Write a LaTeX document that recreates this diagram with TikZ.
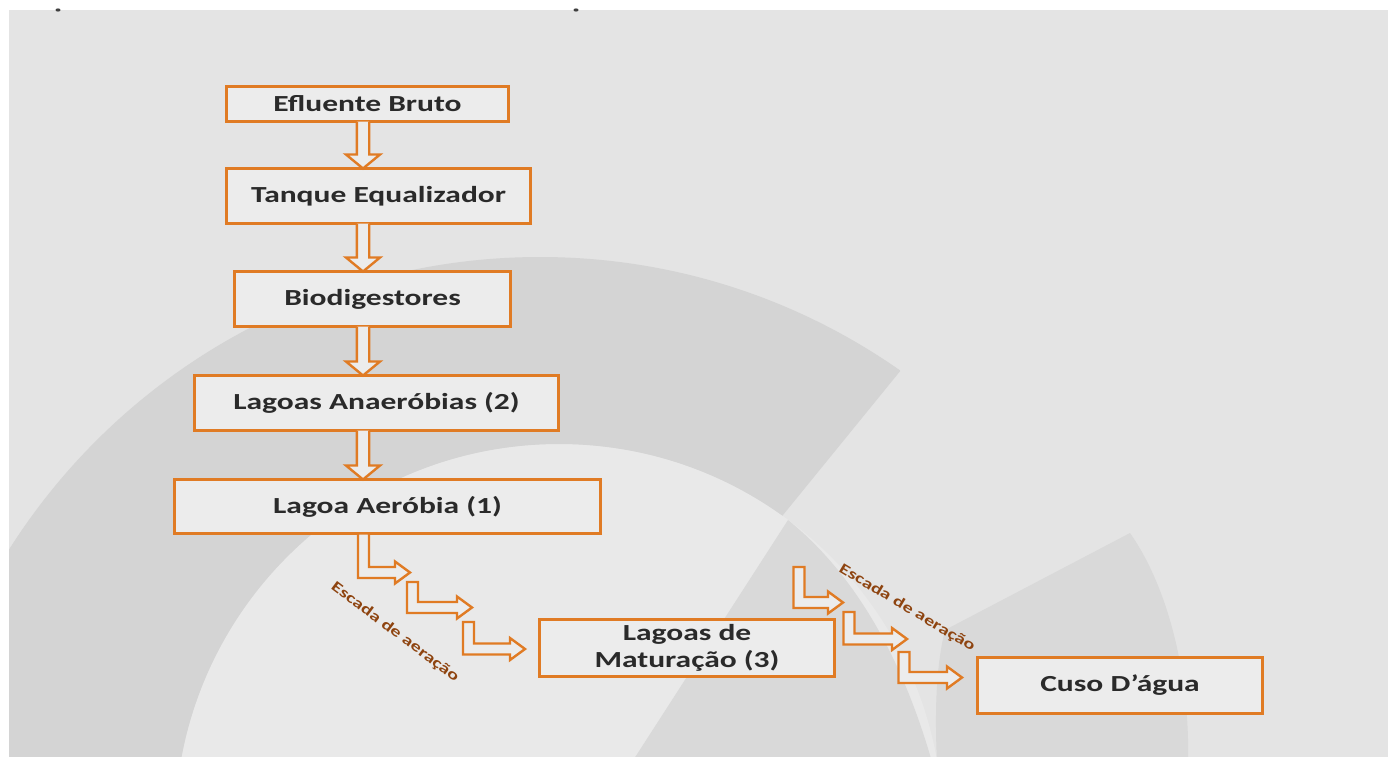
\documentclass[tikz,border=0pt]{standalone}
\usepackage{fontspec}
\newfontfamily\boxfont[FakeStretch=1.37]{Carlito}
\usetikzlibrary{calc}
\definecolor{bgc}{HTML}{E4E4E4}
\definecolor{bglight}{HTML}{E9E9E9}
\definecolor{banda}{HTML}{D4D4D4}
\definecolor{bandb}{HTML}{D9D9D9}
\definecolor{orng}{HTML}{E07B24}
\definecolor{boxfill}{HTML}{ECECEC}
\definecolor{lbl}{HTML}{8E4410}
\definecolor{txt}{HTML}{2A2A2A}
\newcommand\varrow[2]{\filldraw[blockarr] let \p1=(#1), \p2=(#2) in
  (\x1-6.2pt,\y1) -- (\x1-6.2pt,\y2+14pt) -- (\x1-17pt,\y2+14pt) -- (\x1,\y2)
  -- (\x1+17pt,\y2+14pt) -- (\x1+6.2pt,\y2+14pt) -- (\x1+6.2pt,\y1);}
\newcommand\larrow[2]{\filldraw[blockarr] let \p1=(#1), \p2=(#2) in
  (\x1-5.5pt,\y1) -- (\x1-5.5pt,\y2-5.5pt) -- (\x2-15pt,\y2-5.5pt) -- (\x2-15pt,\y2-11pt)
  -- (\x2,\y2) -- (\x2-15pt,\y2+11pt) -- (\x2-15pt,\y2+5.5pt) -- (\x1+5.5pt,\y2+5.5pt)
  -- (\x1+5.5pt,\y1) -- cycle;}
\begin{document}
\begin{tikzpicture}[x=1pt,y=-1pt,
  box/.style={draw=orng, line width=3pt, fill=boxfill, inner sep=0pt, outer sep=0pt,
    font=\boxfont\bfseries\fontsize{23}{27}\selectfont, text=txt, align=center},
  blockarr/.style={draw=orng, fill=boxfill, line width=2.4pt, line join=miter},
  lblstyle/.style={font=\boxfont\bfseries\fontsize{15}{16}\selectfont, text=lbl, inner sep=0pt}]
\useasboundingbox (0,0) rectangle (1388,756);
% background
\fill[white] (0,0) rectangle (1388,756);
\fill[bgc] (9,10) rectangle (1392,762);
\begin{scope}
  \clip (9,10) rectangle (1392,762);
  \fill[bglight] (559,828) circle (384);
  \begin{scope}
    \clip (0,10) -- (1194,10) -- (582,762) -- (0,762) -- cycle;
    \fill[banda, even odd rule] (540,885) circle (628) (559,828) circle (384);
  \end{scope}
  \fill[bandb] (788,520) -- (632,762) -- (932,762) .. controls (900,650) and (850,570) .. (788,520) -- cycle;
  \fill[bandb] (1130,533) -- (945,630) .. controls (935,670) and (935,720) .. (937,762)
     -- (1188,762) .. controls (1190,680) and (1170,590) .. (1130,533) -- cycle;
\end{scope}
\fill[black!75] (58,10) ellipse (2.5 and 1.6);
\fill[black!75] (576,10) ellipse (2.5 and 1.6);
% boxes
\node[box, minimum width=282pt, minimum height=35pt] (b1) at (367.5,104) {Efluente Bruto};
\node[box, minimum width=304pt, minimum height=55pt] (b2) at (378.5,196) {Tanque Equalizador};
\node[box, minimum width=276pt, minimum height=55pt] (b3) at (372.5,299) {Biodigestores};
\node[box, minimum width=364pt, minimum height=55pt] (b4) at (376.5,403) {Lagoas Anaeróbias (2)};
\node[box, minimum width=426pt, minimum height=54pt] (b5) at (387.5,506.5) {Lagoa Aeróbia (1)};
\node[box, minimum width=295pt, minimum height=57pt] (b6) at (687,648) {Lagoas de\\Maturação (3)};
\node[box, minimum width=285pt, minimum height=56pt] (b7) at (1120,685.5) {Cuso D’água};
% vertical connectors
\coordinate (ax) at (363,0);
\varrow{ax |- b1.south}{ax |- b2.north}
\varrow{ax |- b2.south}{ax |- b3.north}
\varrow{ax |- b3.south}{ax |- b4.north}
\varrow{ax |- b4.south}{ax |- b5.north}
% aeration stairs
\coordinate (s1) at (363.5,0);
\coordinate (t1) at (410,572.5);
\coordinate (s2) at (412.5,582);
\coordinate (t2) at (472,607.5);
\coordinate (s3) at (468.5,622);
\coordinate (t3) at (525,649);
\larrow{s1 |- b5.south}{t1}
\larrow{s2}{t2}
\larrow{s3}{t3}
\coordinate (s4) at (799,567);
\coordinate (t4) at (843,602.5);
\coordinate (s5) at (849,612);
\coordinate (t5) at (907,639);
\coordinate (s6) at (904,652);
\coordinate (t6) at (962,677.5);
\larrow{s4}{t4}
\larrow{s5}{t5}
\larrow{s6}{t6}
\node[lblstyle, rotate=-37] (e1) at (395,632) {Escada de aeração};
\node[lblstyle, rotate=-31] (e2) at (907,608) {Escada de aeração};
\end{tikzpicture}
\end{document}
